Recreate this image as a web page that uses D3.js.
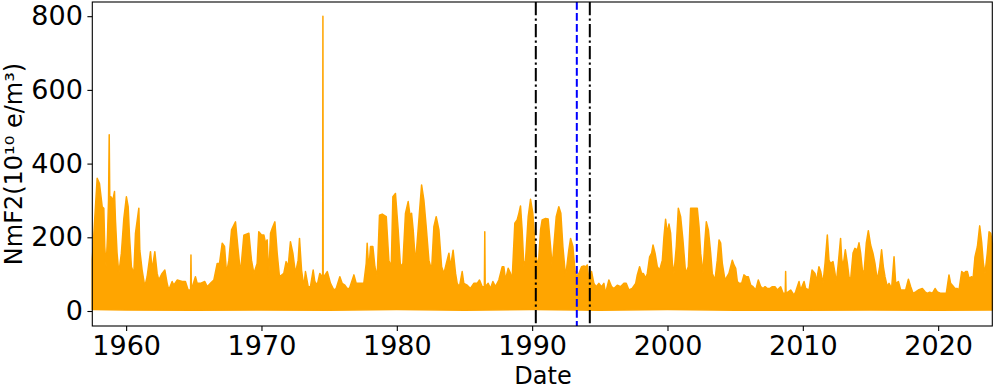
<!DOCTYPE html>
<html>
<head>
<meta charset="utf-8">
<script src="https://cdn.jsdelivr.net/npm/d3@7"></script>
<style>
  body { margin: 0; background: #fff; }
  svg { display: block; font-family: "DejaVu Sans", sans-serif; }
</style>
</head>
<body>
<div id="chart"></div>
<script>
// Upper envelope of the hourly NmF2 trace (year, value)
const envYears = [
  1957.50, 1957.86, 1958.03, 1958.23, 1958.35, 1958.42, 1958.52, 1958.62, 1958.70, 1958.75, 1958.79,
  1958.87, 1959.02, 1959.14, 1959.21, 1959.33, 1959.46, 1959.65, 1959.83, 1960.02, 1960.15, 1960.25,
  1960.39, 1960.57, 1960.69, 1960.94, 1961.01, 1961.18, 1961.38, 1961.55, 1961.80, 1961.92, 1962.12,
  1962.29, 1962.41, 1962.66, 1962.86, 1963.03, 1963.15, 1963.40, 1963.52, 1963.77, 1964.14, 1964.38,
  1964.58, 1964.76, 1964.79, 1964.82, 1965.12, 1965.25, 1965.49, 1965.81, 1965.99, 1966.23, 1966.48,
  1966.73, 1966.90, 1967.10, 1967.27, 1967.42, 1967.59, 1967.79, 1968.08, 1968.25, 1968.45, 1968.70,
  1969.07, 1969.26, 1969.44, 1969.68, 1969.80, 1970.00, 1970.18, 1970.30, 1970.42, 1970.54, 1970.67,
  1970.79, 1970.99, 1971.16, 1971.33, 1971.65, 1971.82, 1971.97, 1972.14, 1972.32, 1972.51, 1972.71,
  1972.81, 1972.96, 1973.13, 1973.25, 1973.45, 1973.62, 1973.82, 1973.94, 1974.12, 1974.31, 1974.48,
  1974.52, 1974.54, 1974.56, 1974.61, 1974.86, 1975.10, 1975.35, 1975.52, 1975.79, 1975.96, 1976.16,
  1976.33, 1976.50, 1976.83, 1977.00, 1977.20, 1977.39, 1977.56, 1977.74, 1977.81, 1977.93, 1978.06,
  1978.23, 1978.38, 1978.55, 1978.72, 1978.92, 1979.22, 1979.41, 1979.59, 1979.71, 1979.90, 1980.10,
  1980.27, 1980.45, 1980.64, 1980.84, 1980.97, 1981.09, 1981.21, 1981.38, 1981.63, 1981.83, 1982.00,
  1982.17, 1982.37, 1982.57, 1982.74, 1982.91, 1983.11, 1983.31, 1983.48, 1983.72, 1983.85, 1983.97,
  1984.16, 1984.34, 1984.46, 1984.63, 1984.83, 1984.95, 1985.20, 1985.44, 1985.69, 1985.94, 1986.11,
  1986.31, 1986.47, 1986.50, 1986.53, 1986.75, 1986.92, 1987.10, 1987.29, 1987.54, 1987.79, 1987.91,
  1988.03, 1988.23, 1988.40, 1988.52, 1988.72, 1988.89, 1989.02, 1989.14, 1989.26, 1989.39, 1989.51,
  1989.71, 1989.88, 1990.05, 1990.25, 1990.45, 1990.62, 1990.74, 1990.99, 1991.18, 1991.36, 1991.48,
  1991.60, 1991.78, 1991.97, 1992.12, 1992.27, 1992.47, 1992.71, 1992.84, 1993.01, 1993.16, 1993.28,
  1993.45, 1993.65, 1993.82, 1993.99, 1994.07, 1994.19, 1994.39, 1994.56, 1994.73, 1994.93, 1995.13,
  1995.30, 1995.42, 1995.67, 1995.87, 1996.04, 1996.29, 1996.53, 1996.78, 1996.95, 1997.15, 1997.39,
  1997.65, 1997.77, 1997.94, 1998.09, 1998.21, 1998.39, 1998.51, 1998.68, 1998.83, 1998.93, 1999.08,
  1999.25, 1999.42, 1999.62, 1999.74, 1999.86, 1999.99, 2000.11, 2000.23, 2000.36, 2000.48, 2000.65,
  2000.80, 2000.97, 2001.14, 2001.34, 2001.54, 2001.71, 2002.20, 2002.33, 2002.45, 2002.62, 2002.77,
  2002.87, 2003.02, 2003.19, 2003.31, 2003.51, 2003.68, 2003.81, 2003.93, 2004.05, 2004.25, 2004.54,
  2004.79, 2004.91, 2005.04, 2005.16, 2005.28, 2005.48, 2005.65, 2005.82, 2005.97, 2006.15, 2006.32,
  2006.52, 2006.71, 2006.89, 2007.06, 2007.21, 2007.38, 2007.55, 2007.75, 2007.94, 2008.12, 2008.36,
  2008.54, 2008.70, 2008.73, 2008.76, 2009.10, 2009.35, 2009.47, 2009.72, 2009.84, 2010.09, 2010.21,
  2010.46, 2010.68, 2010.90, 2011.00, 2011.19, 2011.32, 2011.49, 2011.64, 2011.81, 2011.93, 2012.05,
  2012.23, 2012.38, 2012.47, 2012.62, 2012.79, 2012.87, 2012.97, 2013.14, 2013.29, 2013.41, 2013.53,
  2013.71, 2013.85, 2014.03, 2014.15, 2014.27, 2014.40, 2014.52, 2014.69, 2014.84, 2015.01, 2015.18,
  2015.33, 2015.50, 2015.68, 2015.82, 2015.95, 2016.07, 2016.24, 2016.37, 2016.56, 2016.74, 2016.86,
  2017.06, 2017.23, 2017.35, 2017.60, 2017.80, 2017.97, 2018.14, 2018.34, 2018.53, 2018.83, 2019.03,
  2019.20, 2019.37, 2019.57, 2019.77, 2019.94, 2020.19, 2020.43, 2020.60, 2020.80, 2020.92, 2021.05,
  2021.24, 2021.42, 2021.54, 2021.74, 2021.91, 2022.03, 2022.16, 2022.28, 2022.48, 2022.57, 2022.72,
  2022.90, 2023.07, 2023.22, 2023.34, 2023.46, 2023.63, 2023.76, 2023.88, 2024.00
];
const envMax = [
  140, 360, 346, 283, 279, 175, 120, 200, 300, 478, 310,
  310, 301, 324, 247, 157, 102, 157, 251, 310, 283, 202,
  120, 102, 211, 279, 165, 111, 66, 93, 161, 111, 161,
  102, 84, 102, 111, 75, 57, 80, 70, 84, 80, 80,
  57, 57, 152, 57, 93, 75, 75, 80, 66, 75, 84,
  129, 129, 184, 175, 102, 138, 220, 242, 175, 102, 206,
  211, 138, 102, 129, 215, 206, 206, 184, 193, 93, 211,
  224, 242, 157, 93, 102, 134, 120, 188, 157, 102, 138,
  197, 111, 66, 107, 66, 66, 111, 80, 70, 102, 93,
  93, 800, 93, 93, 107, 75, 57, 61, 93, 75, 70,
  61, 61, 98, 75, 75, 75, 75, 129, 184, 111, 175,
  175, 120, 93, 260, 263, 256, 138, 120, 310, 319, 220,
  120, 129, 265, 297, 260, 265, 220, 129, 247, 342, 301,
  229, 138, 111, 229, 256, 220, 120, 102, 138, 157, 120,
  165, 102, 75, 66, 107, 75, 70, 61, 75, 75, 84,
  66, 66, 215, 66, 75, 61, 80, 66, 84, 120, 120,
  84, 116, 102, 84, 238, 247, 265, 285, 220, 120, 138,
  256, 303, 265, 157, 120, 220, 247, 251, 250, 175, 120,
  175, 256, 283, 265, 175, 93, 166, 197, 175, 111, 93,
  102, 120, 122, 120, 125, 84, 107, 75, 66, 75, 66,
  75, 48, 84, 66, 61, 70, 66, 75, 75, 57, 61,
  75, 98, 120, 102, 102, 89, 102, 147, 157, 179, 157,
  120, 111, 138, 202, 249, 211, 236, 211, 129, 102, 175,
  279, 256, 193, 102, 120, 279, 279, 229, 157, 102, 193,
  242, 220, 157, 102, 84, 138, 193, 184, 129, 84, 102,
  138, 125, 116, 80, 75, 75, 98, 93, 93, 70, 66,
  57, 84, 66, 61, 66, 61, 61, 66, 66, 57, 66,
  48, 48, 107, 48, 57, 43, 52, 80, 57, 80, 61,
  57, 111, 102, 80, 120, 107, 75, 129, 206, 138, 129,
  134, 102, 75, 129, 197, 143, 120, 166, 129, 93, 84,
  157, 170, 166, 185, 157, 111, 102, 184, 218, 179, 157,
  129, 84, 120, 166, 120, 93, 66, 75, 61, 147, 75,
  80, 57, 57, 57, 86, 66, 48, 52, 57, 61, 52,
  48, 51, 48, 61, 52, 48, 48, 48, 98, 75, 70,
  61, 61, 57, 107, 102, 107, 107, 89, 93, 84, 147,
  175, 231, 184, 129, 102, 157, 215, 211, 184
];

// Lower edge of the trace (night-time minimum)
const baseYears = [1957.5, 1960, 1965, 1970, 1975, 1980, 1985, 1990, 1995, 2000, 2005, 2010, 2015, 2020, 2024];
const baseMin = [4, 3, 2, 3, 2, 4, 2, 4, 2, 4, 2, 2, 3, 2, 3];

// Vertical markers
const windowDates = [1990.27, 1994.26];
const eventDates = [1993.30];

const xTicks = [1960, 1970, 1980, 1990, 2000, 2010, 2020];
const yTicks = [0, 200, 400, 600, 800];

const width = 994, height = 389;
const margin = { left: 92.3, right: 1.7, top: 2, bottom: 63 };

const svg = d3.select('#chart').append('svg')
    .attr('width', width)
    .attr('height', height);

const x = d3.scaleLinear()
    .domain([1957.5, 2024.0])
    .range([margin.left, width - margin.right]);

const y = d3.scaleLinear()
    .domain([-40.7, 838.5])
    .range([height - margin.bottom, margin.top]);

// Build the filled band: upper envelope forward, lower edge backward
const upper = envYears.map((yr, i) => [x(yr), y(envMax[i])]);
const lower = baseYears.map((yr, i) => [x(yr), y(baseMin[i])]).reverse();

svg.append('path')
    .attr('d', d3.line()(upper.concat(lower)) + 'Z')
    .attr('fill', 'orange')
    .attr('stroke', 'orange')
    .attr('stroke-width', 1.5)
    .attr('stroke-linejoin', 'round');

// Vertical lines
svg.selectAll('.window')
    .data(windowDates)
    .join('line')
    .attr('x1', d => x(d)).attr('x2', d => x(d))
    .attr('y1', margin.top).attr('y2', height - margin.bottom)
    .attr('stroke', 'black')
    .attr('stroke-width', 2)
    .attr('stroke-dasharray', '13.3,3.3,2.1,3.3');

svg.selectAll('.event')
    .data(eventDates)
    .join('line')
    .attr('x1', d => x(d)).attr('x2', d => x(d))
    .attr('y1', margin.top).attr('y2', height - margin.bottom)
    .attr('stroke', 'blue')
    .attr('stroke-width', 2)
    .attr('stroke-dasharray', '7.7,3.3');

// Axes
const xAxis = svg.append('g')
    .attr('transform', `translate(0,${height - margin.bottom})`)
    .call(d3.axisBottom(x).tickValues(xTicks).tickFormat(d3.format('d')).tickSize(4.9).tickPadding(4.5));

const yAxis = svg.append('g')
    .attr('transform', `translate(${margin.left},0)`)
    .call(d3.axisLeft(y).tickValues(yTicks).tickSize(4.9).tickPadding(4.5));

[xAxis, yAxis].forEach(g => {
    g.select('.domain').remove();
    g.selectAll('line').attr('stroke', 'black').attr('stroke-width', 1.1);
    g.selectAll('text')
        .attr('fill', 'black')
        .style('font-family', '"DejaVu Sans", sans-serif')
        .style('font-size', '27px');
});

// Frame
svg.append('rect')
    .attr('x', margin.left)
    .attr('y', margin.top)
    .attr('width', width - margin.left - margin.right)
    .attr('height', height - margin.top - margin.bottom)
    .attr('fill', 'none')
    .attr('stroke', 'black')
    .attr('stroke-width', 1.1);

// Axis labels
svg.append('text')
    .attr('x', x(1990.8))
    .attr('y', 384)
    .attr('text-anchor', 'middle')
    .style('font-size', '24px')
    .text('Date');

svg.append('text')
    .attr('transform', `translate(22,${(margin.top + height - margin.bottom) / 2}) rotate(-90)`)
    .attr('text-anchor', 'middle')
    .style('font-size', '24px')
    .text('NmF2(10¹⁰ e/m³)');
</script>
</body>
</html>
